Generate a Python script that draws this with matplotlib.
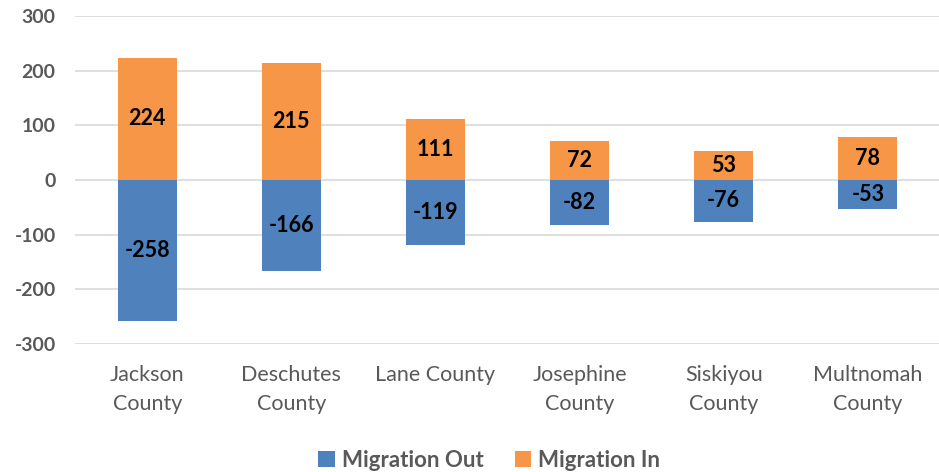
import matplotlib.pyplot as plt
import numpy as np

counties = ["Jackson\nCounty", "Deschutes\nCounty", "Lane County",
            "Josephine\nCounty", "Siskiyou\nCounty", "Multnomah\nCounty"]
migration_out = [-258, -166, -119, -82, -76, -53]
migration_in = [224, 215, 111, 72, 53, 78]

blue = "#4f81bd"
orange = "#f79646"
grey = "#595959"

plt.rcParams['font.family'] = ['Lato', 'DejaVu Sans']
plt.rcParams['axes.unicode_minus'] = False

fig = plt.figure(figsize=(9.39, 4.72), dpi=100)
ax = fig.add_axes([0.08, 0.271, 0.921, 0.695])

x = np.arange(len(counties))
w = 0.41
b1 = ax.bar(x, migration_out, w, color=blue, label="Migration Out", zorder=3)
b2 = ax.bar(x, migration_in, w, color=orange, label="Migration In", zorder=3)

for bars, vals in ((b1, migration_out), (b2, migration_in)):
    for r, v in zip(bars, vals):
        ax.text(r.get_x() + r.get_width() / 2, v / 2, str(v), ha='center', va='center',
                fontsize=15.5, fontweight='bold', color='black', zorder=4)

ax.set_xlim(-0.5, len(counties) - 0.5)
ax.set_ylim(-300, 300)
ax.set_yticks(range(-300, 301, 100))
ax.yaxis.grid(True, color="#d9d9d9", linewidth=1.2, zorder=0)
ax.set_axisbelow(True)
for s in ax.spines.values():
    s.set_visible(False)
ax.tick_params(axis='both', length=0)
ax.tick_params(axis='y', labelsize=14, labelcolor=grey, pad=14)
for lbl in ax.get_yticklabels():
    lbl.set_fontweight('bold')
ax.set_xticks(x)
ax.set_xticklabels(counties, fontsize=15.5, color=grey, linespacing=1.55)
ax.tick_params(axis='x', pad=15)

leg = fig.legend(loc='lower center', bbox_to_anchor=(0.521, -0.04), ncol=2, frameon=False,
                 handlelength=0.75, handleheight=0.75, handletextpad=0.3, columnspacing=1.4,
                 prop={'size': 16, 'weight': 'bold'})
for t in leg.get_texts():
    t.set_color(grey)

fig.savefig("out.png", dpi=100)
